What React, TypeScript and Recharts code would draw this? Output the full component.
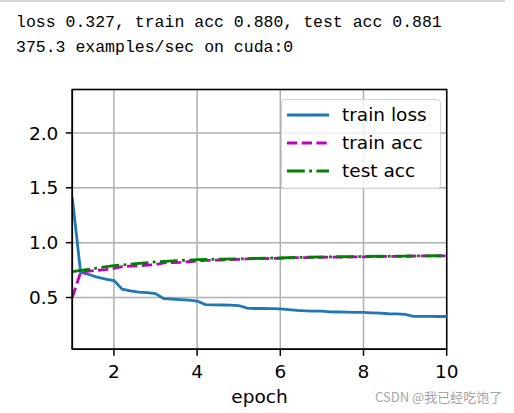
import React from "react"
import { LineChart, Line, XAxis, YAxis, CartesianGrid, Legend, ReferenceArea } from "recharts"

// x positions of the logged points (5 per epoch)
const steps = [
  1.0, 1.2, 1.4, 1.6, 1.8, 2.0, 2.2, 2.4, 2.6, 2.8, 3.0, 3.2, 3.4, 3.6, 3.8, 4.0,
  4.2, 4.4, 4.6, 4.8, 5.0, 5.2, 5.4, 5.6, 5.8, 6.0, 6.2, 6.4, 6.6, 6.8, 7.0,
  7.2, 7.4, 7.6, 7.8, 8.0, 8.2, 8.4, 8.6, 8.8, 9.0, 9.2, 9.4, 9.6, 9.8, 10.0,
]

const trainLoss = [
  1.41, 0.73, 0.71, 0.685, 0.667, 0.655, 0.576, 0.56, 0.55, 0.545, 0.536, 0.49, 0.485, 0.48, 0.476, 0.468,
  0.436, 0.433, 0.432, 0.43, 0.427, 0.403, 0.4, 0.4, 0.399, 0.397, 0.39, 0.382, 0.379, 0.376, 0.376,
  0.37, 0.368, 0.367, 0.365, 0.364, 0.36, 0.357, 0.352, 0.35, 0.346, 0.328, 0.328, 0.328, 0.327, 0.327,
]

const trainAcc = [
  0.5, 0.73, 0.74, 0.748, 0.755, 0.765, 0.782, 0.787, 0.79, 0.795, 0.8, 0.815, 0.818, 0.821, 0.826, 0.832,
  0.838, 0.84, 0.842, 0.845, 0.848, 0.852, 0.854, 0.855, 0.856, 0.858, 0.862, 0.863, 0.864, 0.865, 0.866,
  0.868, 0.869, 0.869, 0.87, 0.871, 0.873, 0.874, 0.875, 0.875, 0.876, 0.878, 0.879, 0.879, 0.88, 0.88,
]

const testEpochs = [1, 2, 3, 4, 5, 6, 7, 8, 9, 10]
const testAcc = [0.737, 0.79, 0.825, 0.845, 0.852, 0.862, 0.87, 0.874, 0.878, 0.881]

const xTicks = [2, 4, 6, 8, 10]
const yTicks = [0.5, 1.0, 1.5, 2.0]
const Y_MIN = 0.028
const Y_MAX = 2.396

const series = [
  { key: "loss", name: "train loss", color: "#1f77b4", dash: undefined },
  { key: "trainAcc", name: "train acc", color: "#bf00bf", dash: "10.3 4.4" },
  { key: "testAcc", name: "test acc", color: "#008000", dash: "17.8 4.4 2.8 4.4" },
]

const data = steps.map((x, i) => {
  const t = testEpochs.indexOf(x)
  return {
    x,
    loss: trainLoss[i],
    trainAcc: trainAcc[i],
    testAcc: t >= 0 ? testAcc[t] : null,
  }
})

const FONT = "'DejaVu Sans', sans-serif"

const LegendBox = () => (
  <div
    style={{
      width: 153,
      height: 87,
      paddingTop: 1,
      paddingLeft: 5,
      border: "1.5px solid #d5d5d5",
      borderRadius: 4,
      background: "rgba(255,255,255,0.8)",
      fontFamily: FONT,
      fontSize: 18.5,
      color: "#000",
      boxSizing: "content-box",
    }}
  >
    {series.map((s) => (
      <div key={s.key} style={{ height: 28, display: "flex", alignItems: "center" }}>
        <svg width={42} height={10} style={{ marginRight: 13 }}>
          <line x1={0} y1={5} x2={42} y2={5} stroke={s.color} strokeWidth={2.8} strokeDasharray={s.dash} />
        </svg>
        <span style={{ lineHeight: "28px" }}>{s.name}</span>
      </div>
    ))}
  </div>
)

export default function App() {
  return (
    <div style={{ position: "absolute", left: 0, top: 0, width: 514, height: 413, background: "#fff", overflow: "hidden" }}>
      <div style={{ position: "absolute", left: 0, top: 0, width: 505, height: 2, background: "#d6d6d6" }} />
      <div
        style={{
          position: "absolute",
          left: 16,
          top: 10,
          fontFamily: "'Liberation Mono', monospace",
          fontSize: 16.5,
          lineHeight: "25px",
          color: "#000",
          whiteSpace: "pre",
        }}
      >
        {"loss 0.327, train acc 0.880, test acc 0.881\n375.3 examples/sec on cuda:0"}
      </div>

      <div style={{ position: "absolute", left: 0, top: 0 }}>
        <LineChart width={514} height={413} data={data} margin={{ top: 89.5, right: 67.3, left: 0, bottom: 27.7 }}>
          <CartesianGrid stroke="#b0b0b0" strokeWidth={1.5} />
          <XAxis
            dataKey="x"
            type="number"
            domain={[1, 10]}
            ticks={xTicks}
            height={36}
            tickSize={6.5}
            tickMargin={9.5}
            axisLine={{ stroke: "#000", strokeWidth: 1.5 }}
            tickLine={{ stroke: "#000", strokeWidth: 1.5 }}
            tick={{ fontSize: 18.5, fill: "#000", fontFamily: FONT }}
            label={{ value: "epoch", position: "bottom", offset: 5, fontSize: 18.5, fill: "#000", fontFamily: FONT }}
          />
          <YAxis
            type="number"
            domain={[Y_MIN, Y_MAX]}
            ticks={yTicks}
            width={72.3}
            tickSize={6.5}
            tickMargin={7.5}
            axisLine={{ stroke: "#000", strokeWidth: 1.5 }}
            tickLine={{ stroke: "#000", strokeWidth: 1.5 }}
            tick={{ fontSize: 18.5, fill: "#000", fontFamily: FONT }}
            tickFormatter={(v: number) => v.toFixed(1)}
          />
          {series.map((s) => (
            <Line
              key={s.key}
              dataKey={s.key}
              name={s.name}
              stroke={s.color}
              strokeWidth={2.8}
              strokeDasharray={s.dash}
              dot={false}
              activeDot={false}
              connectNulls
              type="linear"
              isAnimationActive={false}
            />
          ))}
          <ReferenceArea x1={1} x2={10} y1={Y_MIN} y2={Y_MAX} fill="none" stroke="#000" strokeWidth={1.5} />
          <Legend
            layout="vertical"
            align="center"
            verticalAlign="middle"
            content={() => <LegendBox />}
            wrapperStyle={{ position: "absolute", left: 281, top: 99, width: "auto" }}
          />
        </LineChart>
      </div>

      <div
        style={{
          position: "absolute",
          left: 375,
          top: 389,
          fontFamily: "'Noto Sans CJK SC', sans-serif",
          fontSize: 13,
          lineHeight: "16px",
          color: "#a6a6a6",
          whiteSpace: "nowrap",
        }}
      >
        CSDN @我已经吃饱了
      </div>
    </div>
  )
}
